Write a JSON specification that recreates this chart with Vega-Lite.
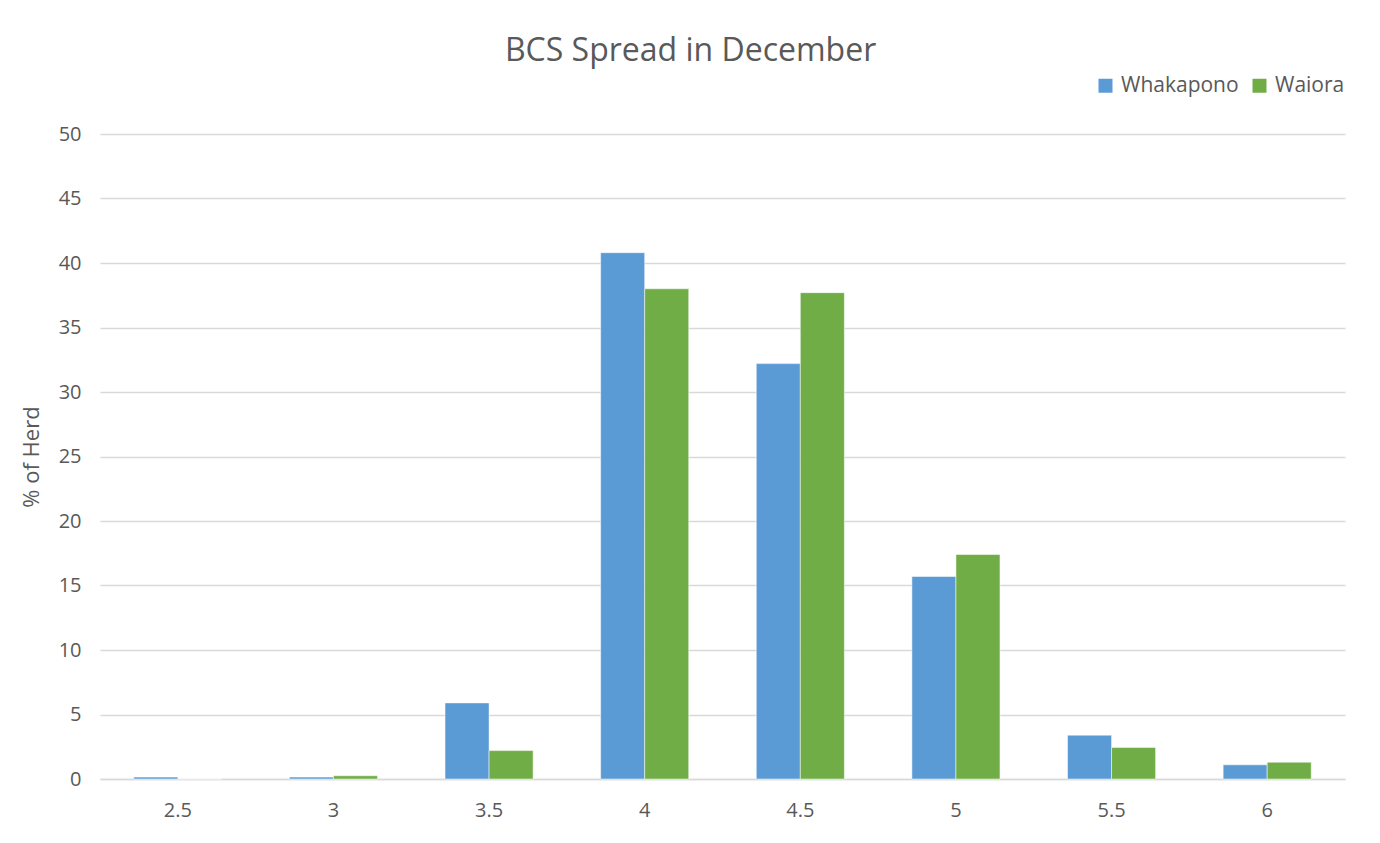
{
  "$schema": "https://vega.github.io/schema/vega-lite/v6.json",
  "autosize": {"type": "none"},
  "width": 1245,
  "height": 645,
  "padding": {"left": 100, "top": 134, "right": 35, "bottom": 64},
  "background": "white",
  "title": {
    "text": "BCS Spread in December",
    "font": "Open Sans",
    "fontSize": 32,
    "fontWeight": "normal",
    "color": "#595959",
    "anchor": "middle",
    "frame": "bounds",
    "dx": 8,
    "offset": 7
  },
  "data": {
    "values": [
      {"bcs": "2.5", "series": "Whakapono", "pct": 0.15},
      {"bcs": "2.5", "series": "Waiora", "pct": 0},
      {"bcs": "3", "series": "Whakapono", "pct": 0.15},
      {"bcs": "3", "series": "Waiora", "pct": 0.25},
      {"bcs": "3.5", "series": "Whakapono", "pct": 5.9},
      {"bcs": "3.5", "series": "Waiora", "pct": 2.2},
      {"bcs": "4", "series": "Whakapono", "pct": 40.8},
      {"bcs": "4", "series": "Waiora", "pct": 38.0},
      {"bcs": "4.5", "series": "Whakapono", "pct": 32.2},
      {"bcs": "4.5", "series": "Waiora", "pct": 37.7},
      {"bcs": "5", "series": "Whakapono", "pct": 15.7},
      {"bcs": "5", "series": "Waiora", "pct": 17.4},
      {"bcs": "5.5", "series": "Whakapono", "pct": 3.4},
      {"bcs": "5.5", "series": "Waiora", "pct": 2.45},
      {"bcs": "6", "series": "Whakapono", "pct": 1.1},
      {"bcs": "6", "series": "Waiora", "pct": 1.3}
    ]
  },
  "mark": {"type": "bar", "stroke": "white", "strokeWidth": 0.5},
  "encoding": {
    "x": {
      "field": "bcs",
      "type": "ordinal",
      "sort": ["2.5", "3", "3.5", "4", "4.5", "5", "5.5", "6"],
      "scale": {"paddingInner": 0.434, "paddingOuter": 0.217},
      "axis": {
        "title": null,
        "labelAngle": 0,
        "labelFont": "Open Sans",
        "labelFontSize": 20,
        "labelColor": "#595959",
        "labelPadding": 21,
        "ticks": false,
        "domainColor": "#d9d9d9",
        "domainWidth": 1.5
      }
    },
    "xOffset": {
      "field": "series",
      "type": "nominal",
      "sort": ["Whakapono", "Waiora"],
      "scale": {"paddingInner": 0, "paddingOuter": 0}
    },
    "y": {
      "field": "pct",
      "type": "quantitative",
      "scale": {"domain": [0, 50]},
      "axis": {
        "title": "% of Herd",
        "titleFont": "Open Sans",
        "titleFontSize": 22,
        "titleFontWeight": "normal",
        "titleColor": "#595959",
        "titlePadding": 15,
        "values": [0, 5, 10, 15, 20, 25, 30, 35, 40, 45, 50],
        "labelFont": "Open Sans",
        "labelFontSize": 20,
        "labelColor": "#595959",
        "labelPadding": 19,
        "ticks": false,
        "domain": false,
        "gridColor": "#d9d9d9",
        "gridWidth": 1.5
      }
    },
    "color": {
      "field": "series",
      "type": "nominal",
      "sort": ["Whakapono", "Waiora"],
      "scale": {"domain": ["Whakapono", "Waiora"], "range": ["#5B9BD5", "#70AD47"]},
      "legend": {
        "title": null,
        "orient": "none",
        "direction": "horizontal",
        "legendX": 995,
        "legendY": -59,
        "symbolType": "square",
        "symbolSize": 196,
        "symbolStrokeWidth": 0,
        "labelFont": "Open Sans",
        "labelFontSize": 21,
        "labelColor": "#595959",
        "labelOffset": 5,
        "columnPadding": 10
      }
    }
  },
  "config": {"view": {"stroke": null}}
}
